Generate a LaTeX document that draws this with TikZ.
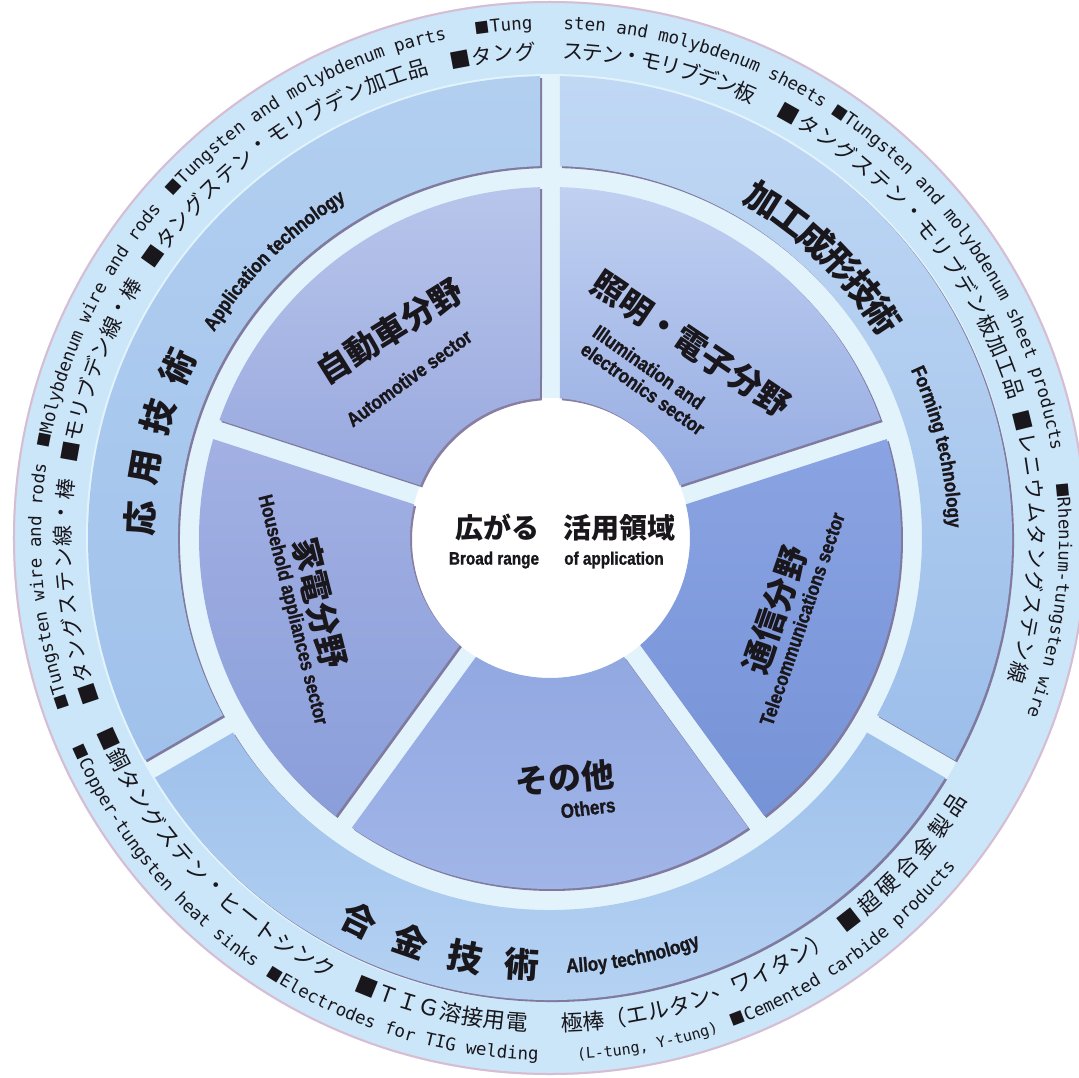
\documentclass[tikz,border=0pt]{standalone}
\usepackage{fontspec}
\usetikzlibrary{decorations.text}
\newfontfamily\jp{Noto Sans CJK JP}
\newfontfamily\mono{DejaVu Sans Mono}
\newfontfamily\cond{Liberation Sans}[FakeStretch=0.85,FakeBold=1.2]

\definecolor{inkcol}{RGB}{25,22,28}
\definecolor{bandcol}{RGB}{203,230,248}
\definecolor{rimcol}{RGB}{215,188,210}
\definecolor{gapcol}{RGB}{226,243,252}
\definecolor{shadecol}{RGB}{88,72,120}
\definecolor{ringAt}{RGB}{178,207,240}\definecolor{ringAb}{RGB}{160,193,235}
\definecolor{ringCt}{RGB}{192,216,244}\definecolor{ringCb}{RGB}{156,190,234}
\definecolor{ringEt}{RGB}{158,192,235}\definecolor{ringEb}{RGB}{186,214,244}
\definecolor{autoT}{RGB}{184,197,235}\definecolor{autoB}{RGB}{152,168,222}
\definecolor{illT}{RGB}{192,208,241}\definecolor{illB}{RGB}{150,172,226}
\definecolor{homeT}{RGB}{162,176,227}\definecolor{homeB}{RGB}{138,158,218}
\definecolor{telT}{RGB}{138,163,226}\definecolor{telB}{RGB}{118,147,215}
\definecolor{othT}{RGB}{146,168,225}\definecolor{othB}{RGB}{162,182,232}

% fonts used inside text along arcs
\newcommand\sqf{\jp\fontsize{15}{15}\selectfont\color{inkcol}}
\newcommand\enf{\mono\fontsize{17.5}{17.5}\selectfont\color{inkcol}}
\newcommand\ens{\mono\fontsize{15}{15}\selectfont\color{inkcol}}
\newcommand\condf{\cond\bfseries\fontsize{20}{20}\selectfont\color{inkcol}}

% annular sector: inner radius, outer radius, from angle, to angle, half gap
\newcommand\annsec[5]{({#3+asin(#5/#2)}:#2) arc[start angle={#3+asin(#5/#2)}, end angle={#4-asin(#5/#2)}, radius=#2] -- ({#4-asin(#5/#1)}:#1) arc[start angle={#4-asin(#5/#1)}, end angle={#3+asin(#5/#1)}, radius=#1] -- cycle}

% text on an arc, clockwise (tops outward) and counterclockwise (tops inward)
\newcommand\cwtext[4]{\path[decorate,decoration={text along path,text align=left,text={|#3|#4}}] (#2:#1) arc[start angle=#2,end angle=#2-62,radius=#1];}
\newcommand\ccwtext[4]{\path[decorate,decoration={text along path,text align=left,text={|#3|#4}}] (#2:#1) arc[start angle=#2,end angle=#2+62,radius=#1];}

% full-width characters one by one on an arc: name, style, radius, first angle, step, rotation offset, list
\newcommand\jparc[7]{\foreach \ch [count=\i from 0] in {#7}{\pgfmathsetmacro\ang{#4+\i*(#5)}\node[#2,rotate=\ang#6] (#1-\i) at (\ang:#3) {\ch};}}

\tikzset{
  jptop/.style={font=\jp\fontsize{21}{21}\selectfont,text=inkcol,inner sep=0pt},
  jpbot/.style={font=\jp\fontsize{22}{22}\selectfont,text=inkcol,inner sep=0pt},
  ringjp/.style={font=\jp\bfseries\fontsize{35}{35}\selectfont,text=inkcol,inner sep=0pt},
  secjp/.style={font=\jp\bfseries\fontsize{33}{33}\selectfont,text=inkcol,inner sep=0pt},
  secen/.style={font=\cond\bfseries\fontsize{20}{21}\selectfont,text=inkcol,inner sep=0pt},
  ctrjp/.style={font=\jp\bfseries\fontsize{28}{28}\selectfont,text=inkcol,inner sep=0pt},
  ctren/.style={font=\cond\bfseries\fontsize{18}{18}\selectfont,text=inkcol,inner sep=0pt},
  dropshadow/.style={fill=shadecol,fill opacity=0.7,shift={(2,-2)}}
}

\begin{document}
\begin{tikzpicture}[x=1pt,y=1pt]
\useasboundingbox (-550,-539) rectangle (529,538);
\begin{scope}
\clip (-550,-539) rectangle (529,538);
\fill[white] (-550,-539) rectangle (529,538);
% outer band
\fill[bandcol] (0,0) circle (537);
\draw[rimcol,line width=2] (0,0) circle (536);
\fill[gapcol] (0,0) circle (464);
% middle ring: three technology fields
\foreach \a/\b/\ca/\cb in {90/210/ringAt/ringAb,-30/90/ringCt/ringCb,210/330/ringEt/ringEb}{
  \fill[dropshadow] \annsec{372}{462}{\a}{\b}{10};
  \shade[top color=\ca,bottom color=\cb] \annsec{372}{462}{\a}{\b}{10};
}
% centre disc
\fill[white] (0,0) circle (140);
% inner ring: five application sectors
\foreach \a/\b/\ca/\cb in {90/162/autoT/autoB,162/234/homeT/homeB,234/306/othT/othB,306/378/telT/telB,18/90/illT/illB}{
  \fill[dropshadow] \annsec{140}{351}{\a}{\b}{10};
  \shade[top color=\ca,bottom color=\cb] \annsec{140}{351}{\a}{\b}{10};
}
\end{scope}

% centre
\node[ctrjp] (c1) at (-52,10) {広がる};
\node[ctrjp] (c2) at (70,10) {活用領域};
\node[ctren] (c3) at (-56,-22) {Broad range};
\node[ctren] (c4) at (64,-22) {of application};

% sector labels
\node[secjp,rotate=32] (autoJ) at (-160,207) {自動車分野};
\node[secen,rotate=36] (autoE) at (-141,160) {Automotive sector};
\node[secjp,rotate=-34] (illJ) at (141,194) {照明・電子分野};
\node[secen,rotate=-35,align=left] (illE) at (99,158) {Illumination and\\electronics sector};
\node[secjp,rotate=-76] (homeJ) at (-230,-65) {家電分野};
\node[secen,rotate=-76] (homeE) at (-258,-72) {Household appliances sector};
\node[secjp,rotate=71] (telJ) at (225,-72) {通信分野};
\node[secen,rotate=71] (telE) at (252,-81) {Telecommunications sector};
\node[secjp,rotate=5] (othJ) at (15,-240) {その他};
\node[secen,rotate=7] (othE) at (38,-270) {Others};

% technology labels
\foreach \ch/\ang [count=\i] in {応/177.3,用/170.1,技/162.8,術/155.3}
  \node[ringjp,rotate=\ang-90] (app\i) at (\ang:410) {\ch};
\foreach \ch/\ang [count=\i] in {加/57.8,工/53.0,成/48.2,形/43.4,技/38.6,術/33.8}
  \node[ringjp,rotate=\ang-90] (form\i) at (\ang:400) {\ch};
\foreach \ch/\ang [count=\i] in {合/243.5,金/250.9,技/258.6,術/266.2}
  \node[ringjp,rotate=\ang+90] (alloy\i) at (\ang:427) {\ch};
\cwtext{394}{148.5}{\condf}{Application technology}
\cwtext{398}{25}{\condf}{Forming technology}
\ccwtext{435}{272.2}{\condf}{Alloy technology}

% product names, English
\cwtext{509}{199.4}{\sqf}{■|\enf|Tungsten wire and rods}
\cwtext{509}{169.9}{\sqf}{■|\enf|Molybdenum wire and rods}
\cwtext{509}{137.8}{\sqf}{■|\enf|Tungsten and molybdenum parts}
\cwtext{509}{98.4}{\sqf}{■|\enf|Tung}
\cwtext{509}{88.5}{\enf}{sten and molybdenum sheets}
\cwtext{509}{56.6}{\sqf}{■|\enf|Tungsten and molybdenum sheet products}
\cwtext{509}{6.2}{\sqf}{■|\enf|Rhenium-tungsten wire}
\ccwtext{522}{203.7}{\sqf}{■|\enf|Copper-tungsten heat sinks}
\ccwtext{522}{237.0}{\sqf}{■|\enf|Electrodes for TIG welding}
\ccwtext{522}{273.0}{\ens}{(L-tung, Y-tung)}
\ccwtext{522}{290.5}{\sqf}{■|\enf|Cemented carbide products}

% product names, Japanese
\jparc{ja}{jptop}{487}{198.7}{-2.71}{-90}{■,タ,ン,グ,ス,テ,ン,線,・,棒}
\jparc{jb}{jptop}{487}{169.8}{-2.56}{-90}{■,モ,リ,ブ,デ,ン,線,・,棒}
\jparc{jc}{jptop}{487}{144.6}{-2.585}{-90}{■,タ,ン,グ,ス,テ,ン,・,モ,リ,ブ,デ,ン,加,工,品,{},■,タ,ン,グ}
\jparc{jd}{jptop}{487}{87.3}{-2.33}{-90}{ス,テ,ン,・,モ,リ,ブ,デ,ン,板}
\jparc{je}{jptop}{487}{60.6}{-2.67}{-90}{■,タ,ン,グ,ス,テ,ン,・,モ,リ,ブ,デ,ン,板,加,工,品}
\jparc{jf}{jptop}{487}{13.9}{-2.72}{-90}{■,レ,ニ,ウ,ム,タ,ン,グ,ス,テ,ン,線}
\jparc{jg}{jpbot}{485}{204.5}{2.7}{+90}{■,銅,タ,ン,グ,ス,テ,ン,・,ヒ,ー,ト,シ,ン,ク}
\jparc{jh}{jpbot}{485}{247.8}{2.61}{+90}{■,Ｔ,Ｉ,Ｇ,溶,接,用,電}
\jparc{ji}{jpbot}{485}{272.6}{2.59}{+90}{極,棒,（,エ,ル,タ,ン,、,ワ,イ,タ,ン,）}
\jparc{jk}{jpbot}{485}{308}{3.1}{+90}{■,超,硬,合,金,製,品}
\end{tikzpicture}
\end{document}
